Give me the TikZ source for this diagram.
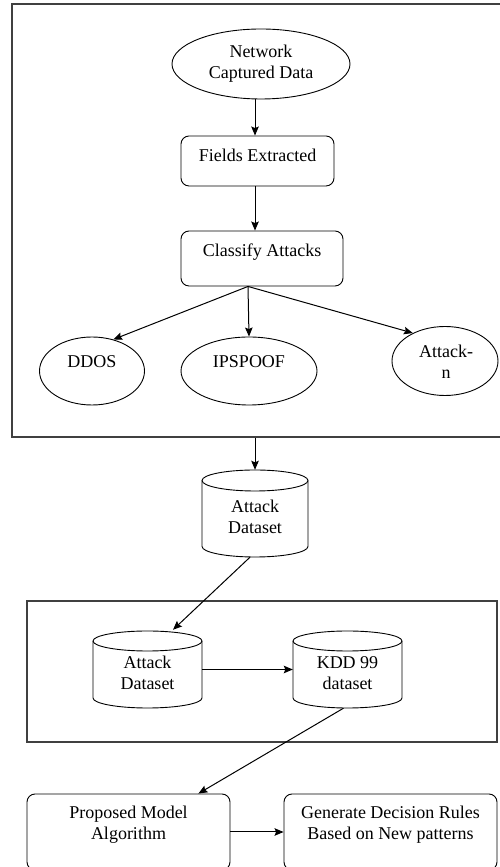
\documentclass[tikz,border=0pt]{standalone}
\usepackage{fontspec}
\setmainfont{Liberation Serif}
\usetikzlibrary{shapes.geometric,arrows.meta,calc}

% open cylinder outline: left x, right x, top y, bottom y, end radius
\newcommand\dbcyl[5]{%
  \draw[line width=0.9pt]
    (#1,#3-#5) -- (#1,#4+#5)
    arc[start angle=180,end angle=360,x radius={(#2-#1)/2},y radius=#5]
    -- (#2,#3-#5)
    arc[start angle=0,end angle=180,x radius={(#2-#1)/2},y radius=#5];
  \draw[line width=0.9pt] (#1,#3-#5)
    arc[start angle=180,end angle=360,x radius={(#2-#1)/2},y radius=#5];}

\begin{document}
\begin{tikzpicture}[x=1pt,y=1pt,
  every node/.style={font=\fontsize{18}{21}\selectfont, align=center, inner sep=0pt},
  frame/.style={draw=black!75, line width=1.4pt, rectangle},
  rbox/.style={draw, line width=0.9pt, rounded corners=8pt, rectangle},
  oval/.style={draw, line width=0.9pt, ellipse},
  spot/.style={rectangle, draw=none},
  arr/.style={-{Stealth[length=9pt,width=7.5pt,inset=1.5pt]}, line width=1pt},
]
\useasboundingbox (0,0) rectangle (500,867);
\clip (0,0) rectangle (500,867);

% group frames
\node[frame, minimum width=498pt, minimum height=433pt] (grpA) at (261,646.5) {};
\node[frame, minimum width=470pt, minimum height=141pt] (grpB) at (262,195.5) {};

% capture and classification stage
\node[oval, minimum width=178pt, minimum height=70pt] (ncd) at (261,803) {Network\\Captured Data};
\node[rbox, minimum width=153pt, minimum height=50pt] (fe) at (257.5,706) {};
\node (fet) at (257.5,712) {Fields Extracted};
\node[rbox, minimum width=162pt, minimum height=55pt] (ca) at (262,608.5) {};
\node (cat) at (262,615) {Classify Attacks};

\node[oval, minimum width=105pt, minimum height=68pt] (ddos) at (92,496) {};
\node (ddost) at (92,505) {DDOS};
\node[oval, minimum width=136pt, minimum height=68pt] (ipsp) at (249,496) {};
\node (ipspt) at (249,505) {IPSPOOF};
\node[oval, minimum width=106pt, minimum height=69pt] (attn) at (445,506) {};
\node (attnt) at (446,505) {Attack-\\n};

% datasets
\dbcyl{202}{308}{397}{310}{10.5}
\node[spot, minimum width=106pt, minimum height=87pt] (ad1) at (255,353.5) {};
\node (ad1t) at (255,350) {Attack\\Dataset};

\dbcyl{93}{202}{236}{159}{10}
\node[spot, minimum width=109pt, minimum height=77pt] (ad2) at (147.5,197.5) {};
\node (ad2t) at (147.5,194) {Attack\\Dataset};

\dbcyl{293}{402}{236}{159}{10}
\node[spot, minimum width=109pt, minimum height=77pt] (kdd) at (347.5,197.5) {};
\node (kddt) at (347.5,194) {KDD 99\\dataset};

% model and rules
\node[rbox, minimum width=203pt, minimum height=76pt] (pm) at (128.5,35) {};
\node (pmt) at (128.5,42.5) {Proposed Model\\Algorithm};
\node[rbox, minimum width=213pt, minimum height=76pt] (gd) at (390.5,35) {};
\node (gdt) at (390.5,42.5) {Generate Decision Rules\\Based on New patterns};

% connectors
\draw[arr] ($(ncd.south)+(-6,0)$) -- ($(fe.north)+(-2.5,0)$);
\draw[arr] ($(fe.south)+(-2.5,0)$) -- ($(ca.north)+(-7,0)$);
\coordinate (split) at ($(ca.south)+(-14,0)$);
\draw[arr] (split) -- (ddos.56);
\draw[arr] (split) -- (ipsp.north);
\draw[arr] (split) -- (attn.139);
\draw[arr] (grpA.south -| ad1.north) -- (ad1.north);
\draw[arr] ($(ad1.south)+(-5,0)$) -- ($(ad2.north)+(25.5,1)$);
\draw[arr] (ad2.east) -- (kdd.west);
\draw[arr] ($(kdd.south)+(-4,0)$) -- ($(pm.north east)+(-32,0)$);
\draw[arr] (pm.east) -- (gd.west);
\end{tikzpicture}
\end{document}
